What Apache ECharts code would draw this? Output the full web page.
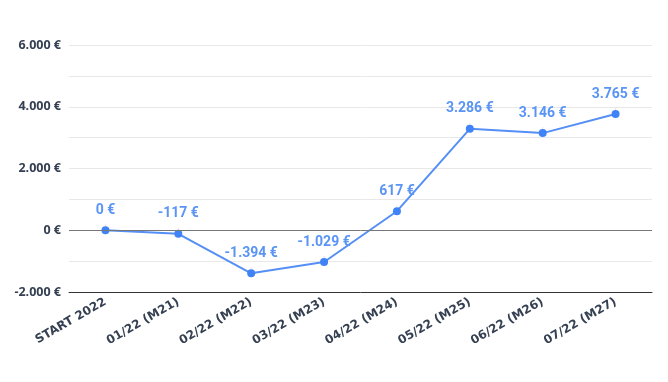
<!DOCTYPE html>
<html><head><meta charset="utf-8">
<script src="https://cdn.jsdelivr.net/npm/echarts@6/dist/echarts.min.js"></script>
<style>html,body{margin:0;padding:0;background:#fff}#c{width:668px;height:382px}</style>
</head><body><div id="c"></div>
<script>
const categories = ["START 2022","01/22 (M21)","02/22 (M22)","03/22 (M23)","04/22 (M24)","05/22 (M25)","06/22 (M26)","07/22 (M27)"];
const values = [0, -117, -1394, -1029, 617, 3286, 3146, 3765];
const yMin = -2000, yMax = 6000, yStep = 1000;

function fmt(v){
  const s = Math.abs(v).toString().replace(/\B(?=(\d{3})+(?!\d))/g, ".");
  return (v < 0 ? "-" : "") + s + " €";
}

const chart = echarts.init(document.getElementById('c'), null, {renderer:'canvas'});
chart.setOption({
  animation:false,
  grid:{left:69, right:16, top:45, bottom:90},
  xAxis:[{
    type:'category', data:categories, boundaryGap:true,
    axisLine:{onZero:false, lineStyle:{color:'#333', width:1}},
    axisTick:{alignWithLabel:true, length:5, lineStyle:{color:'#333'}},
    axisLabel:{rotate:30, interval:0, margin:9, color:'#354052', fontFamily:'DejaVu Sans', fontWeight:'bold', fontSize:12}
  },{
    type:'category', data:categories, boundaryGap:true, position:'bottom',
    axisLine:{show:false},
    axisTick:{inside:true, alignWithLabel:true, length:5, lineStyle:{color:'#333'}},
    axisLabel:{show:false}, splitLine:{show:false}
  }],
  yAxis:{
    type:'value', min:yMin, max:yMax, interval:yStep,
    axisLine:{show:false}, axisTick:{show:false},
    axisLabel:{interval:1, formatter:(v)=> (v % 2000 === 0 ? fmt(v) : ''), color:'#354052', fontFamily:'Open Sans', fontWeight:'bold', fontSize:12.5, margin:8},
    splitLine:{lineStyle:{color:'#e8e8e8', width:1}}
  },
  series:[{
    type:'line', data:values, symbol:'circle', symbolSize:8,
    lineStyle:{color:'#558ff5', width:2}, itemStyle:{color:'#3f83f6'},
    label:{show:true, position:'top', distance:9, formatter:(p)=>fmt(p.value), color:'#5a94f4', fontFamily:'Roboto', fontWeight:'bold', fontSize:14},
    labelLine:{show:true, lineStyle:{color:'#e6e6e6', width:1}},
    markLine:{silent:true, symbol:'none', label:{show:false}, lineStyle:{color:'#777', type:'solid', width:1}, data:[{yAxis:0}]},
    z:3
  }]
});
</script></body></html>
